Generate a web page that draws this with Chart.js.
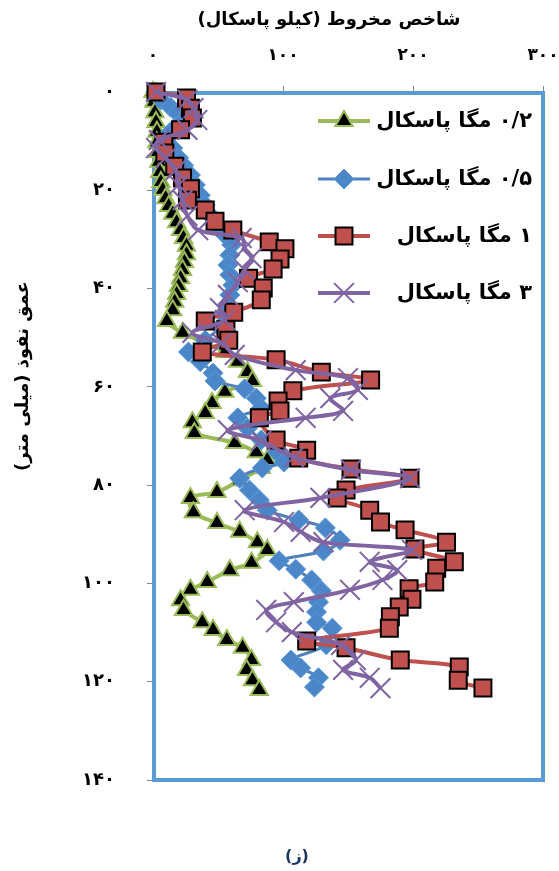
<!DOCTYPE html>
<html lang="fa">
<head>
<meta charset="utf-8">
<script src="https://cdn.jsdelivr.net/npm/chart.js@4/dist/chart.umd.min.js"></script>
<style>
html,body{margin:0;padding:0;background:#fff;}
canvas{display:block;}
</style>
</head>
<body>
<canvas id="c" width="559" height="871"></canvas>
<script>
// Series names (confining pressure)
const seriesLabels = ['۰/۲ مگا پاسکال', '۰/۵ مگا پاسکال', '۱ مگا پاسکال', '۳ مگا پاسکال'];

// Penetration depth (mm) and cone index (kPa) for each pressure
const depth02 = [0,2.0,4.1,6.1,8.1,10.2,12.2,14.2,16.3,18.3,19.9,21.6,23.2,24.8,26.5,28.1,29.7,31.3,33.0,34.6,36.2,37.9,39.5,41.1,42.7,44.4,46.6,49.0,51.1,52.9,54.9,57.0,58.8,61.0,63.3,65.3,67.2,69.4,71.4,73.3,74.9,76.5,79.0,81.4,82.6,85.5,87.7,89.5,91.6,93.2,95.8,97.3,99.7,101.3,103.4,105.4,107.9,109.5,111.5,113.1,115.6,117.6,119.7,121.7];
const cone02  = [0,0.8,1.5,2.3,3.0,3.0,3.8,4.5,5.3,6.1,7.6,9.8,12.1,15.2,18.2,21.2,23.5,25.8,25.8,24.2,22.7,21.2,19.7,18.2,16.7,15.2,10.6,22.7,40.2,55.3,65.2,72.7,76.5,55.3,45.5,40.2,30.3,31.8,62.9,79.5,87.9,83.3,66.7,49.2,28.8,31.1,49.2,66.7,80.3,87.9,75.8,59.1,41.7,28.8,21.2,23.5,37.9,46.2,56.8,68.9,75.8,72.0,76.5,81.8];

const depth05 = [0,1.6,3.1,4.3,5.7,6.9,8.1,9.8,11.4,13.4,14.9,16.9,18.9,21.0,23.0,25.0,27.1,29.1,31.1,33.2,35.2,37.2,39.3,41.3,43.3,45.4,47.8,50.5,52.9,54.9,57.2,58.8,60.4,62.3,64.3,66.3,68.4,70.8,73.3,75.3,76.5,78.6,81.0,83.0,85.1,87.1,88.7,91.2,93.4,95.4,97.1,99.3,101.5,103.8,105.8,107.9,109.1,112.5,115.6,117.2,119.2,121.1];
const cone05  = [2.3,6.1,13.6,18.9,22.7,19.7,13.6,9.8,15.2,19.7,23.5,28.8,32.6,36.4,40.2,43.9,49.2,55.3,60.6,59.1,57.6,59.1,61.4,59.1,57.6,55.3,51.5,40.2,27.3,36.4,46.2,47.7,70.5,79.5,83.3,65.2,72.7,83.3,95.5,100.8,84.1,66.7,74.2,81.8,87.9,112.1,132.6,143.9,131.1,97.0,109.8,122.0,129.5,127.3,125.8,125.8,137.9,133.3,106.1,113.6,127.3,124.2];

const depth1 = [0,1.2,3.3,5.3,7.7,10.2,12.4,15.1,17.5,19.7,22.0,24.0,26.3,28.1,30.5,31.9,34.0,36.0,37.9,39.9,42.3,44.8,46.6,48.4,50.5,52.9,54.5,57.0,58.6,60.8,62.9,64.9,66.3,70.8,72.9,74.5,76.7,78.6,81.0,82.6,85.1,87.5,89.1,91.6,93.0,95.6,96.9,99.7,101.1,103.2,104.8,106.8,109.1,111.7,113.1,115.6,117.0,119.7,121.3];
const cone1  = [2.3,25.8,28.8,30.3,21.2,8.3,9.1,16.7,22.7,28.8,26.5,40.2,47.7,61.4,89.4,101.5,97.7,92.4,73.5,84.8,83.3,62.1,40.2,56.1,58.3,37.9,94.7,129.5,167.4,107.6,96.2,97.7,81.8,94.7,118.2,112.1,152.3,197.7,148.5,141.7,166.7,175.0,193.9,225.8,201.5,231.8,218.2,216.7,197.0,199.2,189.4,182.6,181.8,118.2,148.5,190.2,235.6,234.8,253.8];

const depth3 = [0,1.6,3.3,5.7,7.7,9.8,11.4,13.4,15.9,18.9,22.0,25.2,28.1,29.7,31.7,33.8,36.2,38.7,41.3,44.0,46.4,49.0,51.1,53.5,56.6,58.2,60.6,62.3,64.9,66.3,68.8,71.0,74.3,76.9,78.6,82.6,85.1,87.5,89.5,91.6,93.2,95.6,97.3,99.3,101.3,103.8,105.4,107.9,109.9,112.5,115.6,117.6,119.2,121.3];
const cone3  = [2.3,26.5,31.1,34.1,26.5,4.5,2.3,9.8,17.4,19.7,22.7,26.5,34.8,68.2,70.5,75.8,70.5,65.2,57.6,51.5,55.3,30.3,53.0,62.9,109.8,150.0,157.6,136.4,146.2,117.4,57.6,83.3,108.3,152.3,197.7,128.8,70.5,100.8,113.6,131.1,199.2,166.7,187.9,176.5,151.5,108.3,87.1,94.7,106.8,144.7,156.1,146.2,166.7,175.0];

// Axis tick labels and titles
const xTickLabels = ['۰', '۱۰۰', '۲۰۰', '۳۰۰'];
const yTickLabels = ['۰', '۲۰', '۴۰', '۶۰', '۸۰', '۱۰۰', '۱۲۰', '۱۴۰'];
const xTitle = 'شاخص مخروط (کیلو پاسکال)';
const yTitle = 'عمق نفوذ (میلی متر)';
const caption = '(ز)';

const FONT = '"DejaVu Sans", sans-serif';

const toPoints = (xs, ys) => ys.map((d, i) => ({ x: xs[i], y: d }));

const datasets = [
  {
    label: seriesLabels[0], data: toPoints(cone02, depth02), order: 4,
    borderColor: '#9BBB59', borderWidth: 4,
    pointStyle: 'triangle', pointRadius: 10, pointBackgroundColor: '#000000',
    pointBorderColor: '#9BBB59', pointBorderWidth: 2
  },
  {
    label: seriesLabels[1], data: toPoints(cone05, depth05), order: 3,
    borderColor: '#4F81BD', borderWidth: 3,
    pointStyle: 'rectRot', pointRadius: 10, pointBackgroundColor: '#4A86C8',
    pointBorderColor: '#5B9BD5', pointBorderWidth: 1
  },
  {
    label: seriesLabels[2], data: toPoints(cone1, depth1), order: 2,
    borderColor: '#C0504D', borderWidth: 4,
    pointStyle: 'rect', pointRadius: 12, pointBackgroundColor: '#C0504D',
    pointBorderColor: '#000000', pointBorderWidth: 2
  },
  {
    label: seriesLabels[3], data: toPoints(cone3, depth3), order: 1,
    borderColor: '#8064A2', borderWidth: 4,
    pointStyle: 'crossRot', pointRadius: 14, pointBackgroundColor: '#8064A2',
    pointBorderColor: '#8064A2', pointBorderWidth: 2
  }
];
datasets.forEach(ds => { ds.showLine = true; ds.tension = 0.35; ds.clip = false; ds.fill = false; });

// Blue frame around the plotting area
const frame = {
  id: 'frame',
  beforeDatasetsDraw(chart) {
    const { ctx, chartArea: a } = chart;
    ctx.save();
    ctx.strokeStyle = '#5B9BD5';
    ctx.lineWidth = 4;
    ctx.strokeRect(a.left + 1, a.top + 1, a.right - a.left - 1, a.bottom - a.top - 1);
    ctx.restore();
  }
};

// Legend placed inside the plot, right side
const insideLegend = {
  id: 'insideLegend',
  afterDatasetsDraw(chart) {
    const { ctx } = chart;
    const rows = [121, 179, 236, 293];
    ctx.save();
    chart.data.datasets.forEach((ds, i) => {
      const y = rows[i];
      ctx.strokeStyle = ds.borderColor;
      ctx.lineWidth = ds.borderWidth;
      ctx.beginPath();
      ctx.moveTo(318, y);
      ctx.lineTo(370, y);
      ctx.stroke();
      ctx.fillStyle = ds.pointBackgroundColor;
      ctx.strokeStyle = ds.pointBorderColor;
      ctx.lineWidth = ds.pointBorderWidth;
      Chart.helpers.drawPoint(ctx, {
        pointStyle: ds.pointStyle, radius: ds.pointRadius, rotation: 0,
        borderWidth: ds.pointBorderWidth
      }, 344, y);
      ctx.fillStyle = '#000';
      ctx.font = 'bold 21px ' + FONT;
      ctx.direction = 'rtl';
      ctx.textAlign = 'right';
      ctx.textBaseline = 'middle';
      ctx.fillText(ds.label, 532, y + 1);
    });
    ctx.restore();
  }
};

// Axis titles and panel caption
const titles = {
  id: 'titles',
  afterDraw(chart) {
    const { ctx } = chart;
    ctx.save();
    ctx.fillStyle = '#000';
    ctx.direction = 'rtl';
    ctx.textAlign = 'center';
    ctx.textBaseline = 'middle';
    ctx.font = 'bold 18px ' + FONT;
    ctx.fillText(xTitle, 329, 20);
    ctx.save();
    ctx.translate(23, 376);
    ctx.rotate(-Math.PI / 2);
    ctx.font = 'bold 18px ' + FONT;
    ctx.fillText(yTitle, 0, 0);
    ctx.restore();
    ctx.fillStyle = '#17375E';
    ctx.font = 'bold 16px ' + FONT;
    ctx.fillText(caption, 297, 857);
    ctx.restore();
  }
};

new Chart(document.getElementById('c'), {
  type: 'scatter',
  data: { datasets },
  plugins: [frame, insideLegend, titles],
  options: {
    responsive: false,
    animation: false,
    devicePixelRatio: 1,
    layout: { padding: { left: 0, top: 0, right: 11, bottom: 91 } },
    plugins: { legend: { display: false }, tooltip: { enabled: false } },
    scales: {
      x: {
        type: 'linear', position: 'top', min: 0, max: 300,
        ticks: {
          stepSize: 100, padding: 20, color: '#000',
          font: { family: FONT, size: 17, weight: 'bold' },
          callback: (v) => xTickLabels[Math.round(v / 100)]
        },
        grid: { drawOnChartArea: false, drawTicks: true, tickLength: 6, color: '#868686' },
        border: { display: true, color: '#868686', width: 1 },
        afterFit(s) { s.height = 92; s.paddingLeft = 0; s.paddingRight = 0; }
      },
      y: {
        type: 'linear', reverse: true, min: 0, max: 140,
        ticks: {
          stepSize: 20, padding: 32, color: '#000',
          font: { family: FONT, size: 18, weight: 'bold' },
          callback: (v) => yTickLabels[Math.round(v / 20)]
        },
        grid: { drawOnChartArea: false, drawTicks: true, tickLength: 6, color: '#868686' },
        border: { display: true, color: '#868686', width: 1 },
        afterFit(s) { s.width = 153; s.paddingTop = 0; s.paddingBottom = 0; }
      }
    }
  }
});
</script>
</body>
</html>
